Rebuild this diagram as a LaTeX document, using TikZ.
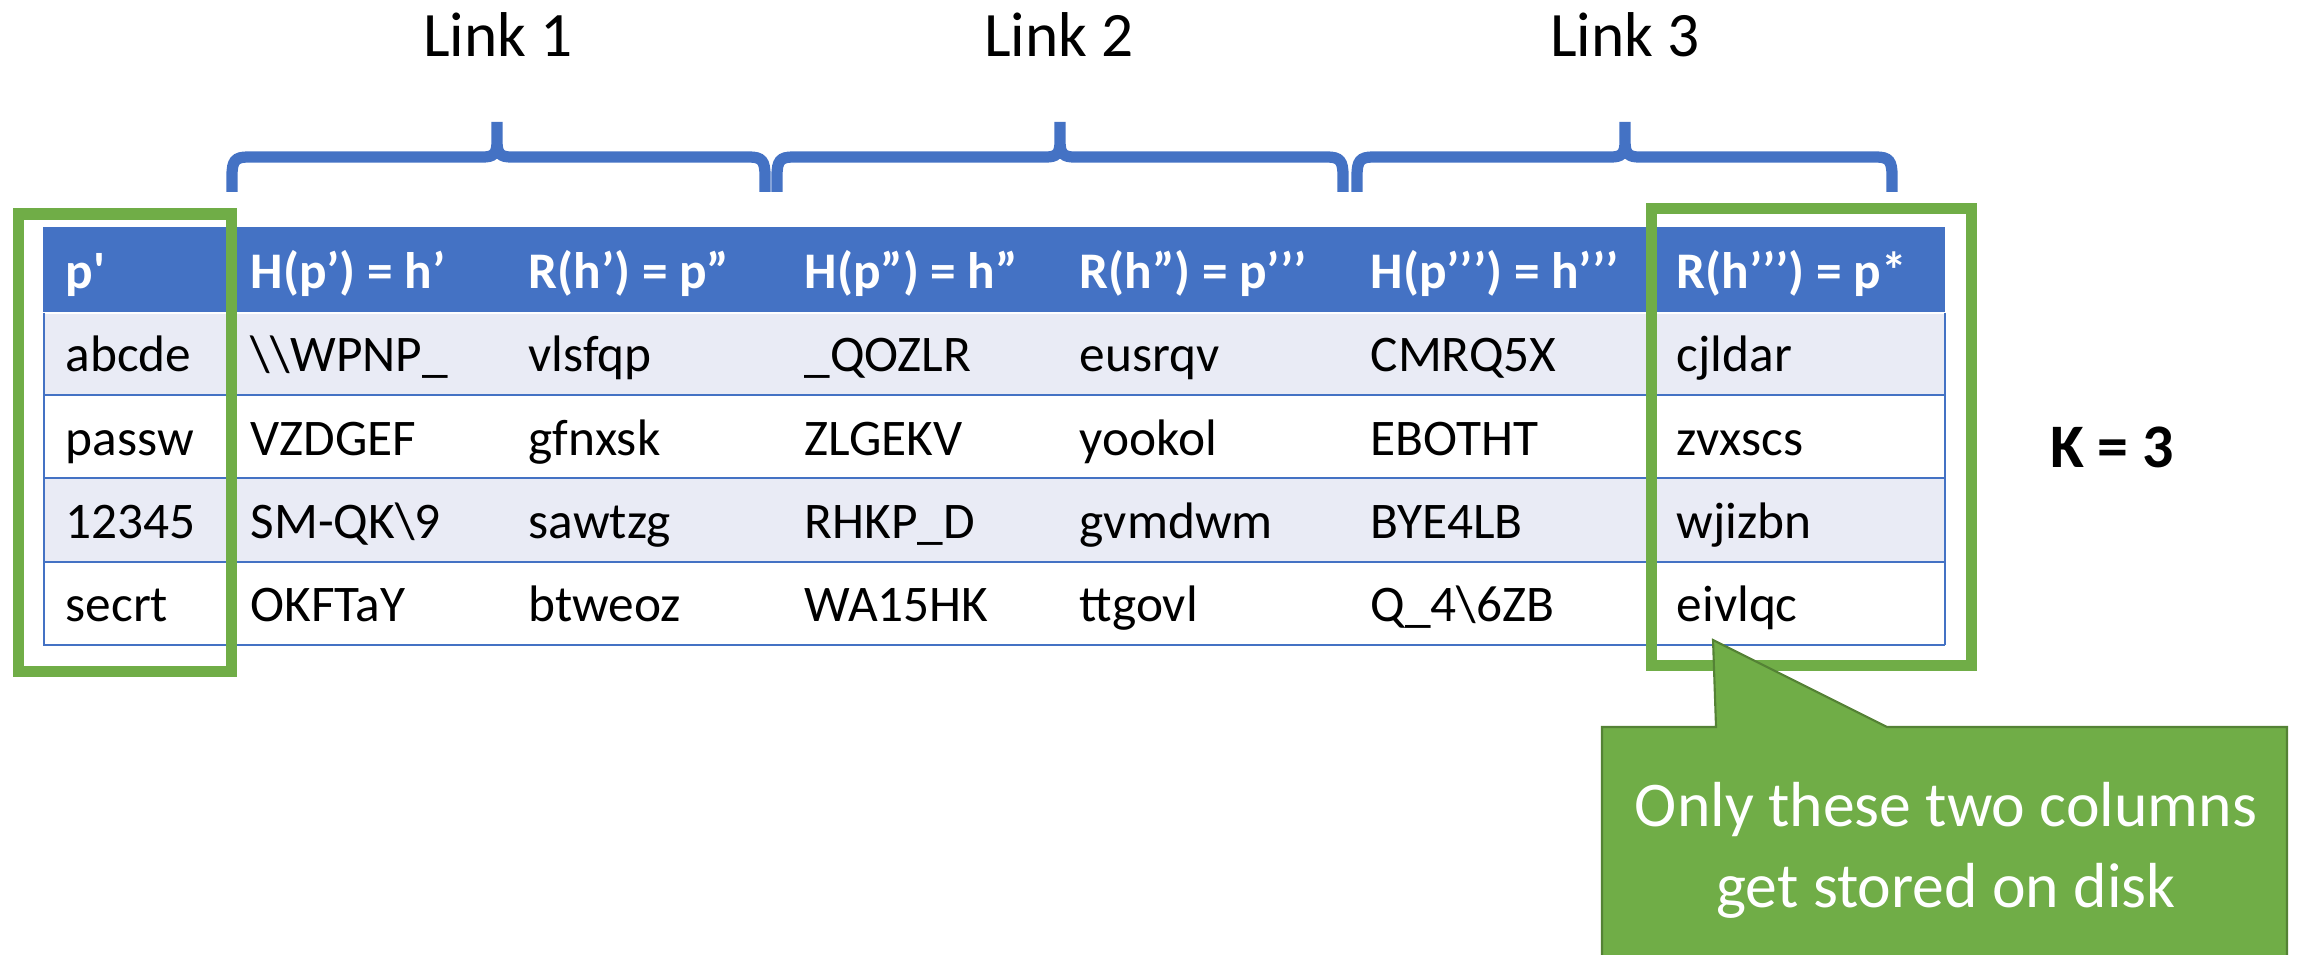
\documentclass[tikz,border=0pt]{standalone}
\usepackage{fontspec}
\setmainfont{Carlito}
\definecolor{tblue}{HTML}{4472C4}
\definecolor{band}{HTML}{E9EBF5}
\definecolor{tgreen}{HTML}{70AD47}
\definecolor{tgreendark}{HTML}{548235}
\begin{document}
\begin{tikzpicture}[x=0.01cm,y=-0.01cm,
  cell/.style={anchor=base west,inner sep=0pt,font=\fontsize{14.6}{17}\selectfont},
  hcell/.style={anchor=base west,inner sep=0pt,text=white,font=\fontsize{14.6}{17}\selectfont\bfseries},
  linklabel/.style={anchor=base,inner sep=0pt,font=\fontsize{18}{22}\selectfont},
  note/.style={anchor=base,inner sep=0pt,text=white,align=center,font=\fontsize{18.1}{22.8}\selectfont},
  greenbox/.style={draw=tgreen,line width=3.13pt},
  bracepath/.style={draw=tblue,line width=3.2pt},
  rowrule/.style={draw=tblue,line width=0.6pt},
  calloutshape/.style={fill=tgreen,draw=tgreendark,line width=0.6pt,line join=miter}]
\useasboundingbox (0,0) rectangle (2298,955);
\clip (0,0) rectangle (2298,955);

% table background: header and banded rows
\fill[tblue] (43,227) rectangle (1945,313);
\fill[band] (43,313) rectangle (1945,395);
\fill[band] (43,478) rectangle (1945,562);
\draw[white,line width=0.4pt] (43,313) -- (1945,313);
\foreach \yy in {395,478,562,645}
  \draw[rowrule] (43,\yy) -- (1945,\yy);
\draw[rowrule] (44,313) -- (44,645);
\draw[rowrule] (1945,313) -- (1945,645);

% header row
\node[hcell] (h1) at (65,289) {p\textquotesingle};
\node[hcell] (h2) at (250,289) {H(p’) = h’};
\node[hcell] (h3) at (528,289) {R(h’) = p”};
\node[hcell] (h4) at (804,289) {H(p”) = h”};
\node[hcell] (h5) at (1079,289) {R(h”) = p’’’};
\node[hcell] (h6) at (1370,289) {H(p’’’) = h’’’};
\node[hcell] (h7) at (1676,289) {R(h’’’) = p*};

% chain rows
\node[cell] (a1) at (65,372) {abcde};
\node[cell] (a2) at (250,372) {\textbackslash\textbackslash WPNP\_};
\node[cell] (a3) at (528,372) {vlsfqp};
\node[cell] (a4) at (804,372) {\_QOZLR};
\node[cell] (a5) at (1079,372) {eusrqv};
\node[cell] (a6) at (1370,372) {CMRQ5X};
\node[cell] (a7) at (1676,372) {cjldar};

\node[cell] (b1) at (65,455) {passw};
\node[cell] (b2) at (250,455) {VZDGEF};
\node[cell] (b3) at (528,455) {gfnxsk};
\node[cell] (b4) at (804,455) {ZLGEKV};
\node[cell] (b5) at (1079,455) {yookol};
\node[cell] (b6) at (1370,455) {EBOTHT};
\node[cell] (b7) at (1676,455) {zvxscs};

\node[cell] (c1) at (65,538) {12345};
\node[cell] (c2) at (250,538) {SM-QK\textbackslash 9};
\node[cell] (c3) at (528,538) {sawtzg};
\node[cell] (c4) at (804,538) {RHKP\_D};
\node[cell] (c5) at (1079,538) {gvmdwm};
\node[cell] (c6) at (1370,538) {BYE4LB};
\node[cell] (c7) at (1676,538) {wjizbn};

\node[cell] (d1) at (65,621) {secrt};
\node[cell] (d2) at (250,621) {OKFTaY};
\node[cell] (d3) at (528,621) {btweoz};
\node[cell] (d4) at (804,621) {WA15HK};
\node[cell] (d5) at (1079,621) {ttgovl};
\node[cell] (d6) at (1370,621) {Q\_4\textbackslash 6ZB};
\node[cell] (d7) at (1676,621) {eivlqc};

% stored columns
\draw[greenbox] (18.5,214) rectangle (231,671.5);
\draw[greenbox] (1651,208.5) rectangle (1971.5,665.5);

% chain links
\foreach \a/\m/\b in {232/497/765, 777/1060/1343, 1357/1625/1892}
  \draw[bracepath]
    (\a,192) -- (\a,176) .. controls (\a,161) and (\a+3,157) .. (\a+16,157)
    -- (\m-14,157) .. controls (\m-4,157) and (\m,154) .. (\m,142) -- (\m,122)
    (\m,142) .. controls (\m,154) and (\m+4,157) .. (\m+14,157)
    -- (\b-16,157) .. controls (\b-3,157) and (\b,161) .. (\b,176) -- (\b,192);

\node[linklabel] (l1) at (498,57) {Link 1};
\node[linklabel] (l2) at (1059,57) {Link 2};
\node[linklabel] (l3) at (1625,57) {Link 3};

\node[anchor=base,inner sep=0pt,font=\fontsize{17.6}{20}\selectfont\bfseries] (k) at (2112,467) {K = 3};

% callout (anchor base = baseline of its last line)
\draw[calloutshape] (1602,727) -- (1716,727) -- (1713,640) -- (1887,727)
  -- (2287,727) -- (2287,1000) -- (1602,1000) -- cycle;
\node[note] (stored) at (1946,907) {Only these two columns\\get stored on disk};
\end{tikzpicture}
\end{document}
